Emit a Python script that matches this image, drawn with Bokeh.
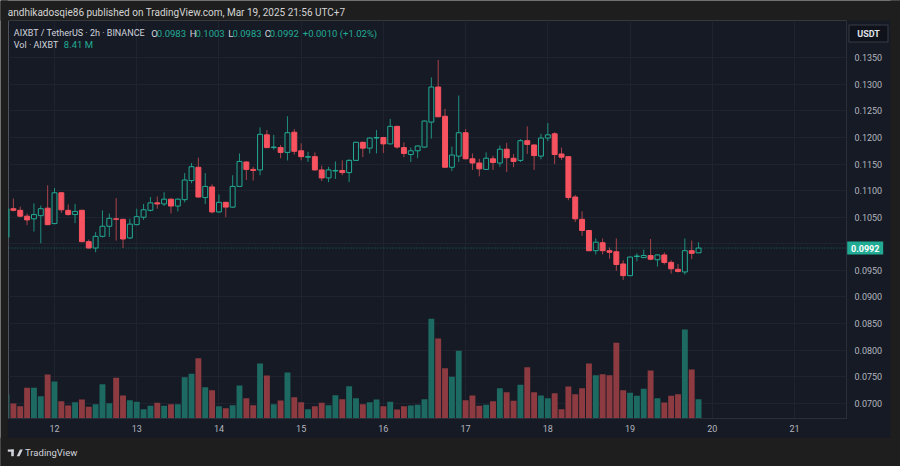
import pandas as pd
from bokeh.plotting import figure
from bokeh.models import (Range1d, LinearAxis, DatetimeAxis, FixedTicker, NumeralTickFormatter,
                          DatetimeTickFormatter, Span, ColumnDataSource, Grid)
from bokeh.core.properties import value
from bokeh.embed import file_html
from bokeh.resources import INLINE

# ---------------- data (AIXBT / USDT, 2h candles) ----------------
first_bar = "2025-03-11 10:00"
opens = [0.1012, 0.1066, 0.1063, 0.1052, 0.1047, 0.1053, 0.1067, 0.1038, 0.1096, 0.1063,
         0.1055, 0.1063, 0.1004, 0.0992, 0.1014, 0.1033, 0.1047, 0.1046, 0.1011, 0.1036,
         0.1050, 0.1063, 0.1077, 0.1075, 0.1084, 0.1071, 0.1083, 0.1119, 0.1144, 0.1087,
         0.1107, 0.1060, 0.1078, 0.1069, 0.1108, 0.1154, 0.1140, 0.1139, 0.1205, 0.1181,
         0.1181, 0.1172, 0.1210, 0.1175, 0.1163, 0.1164, 0.1139, 0.1124, 0.1137, 0.1138,
         0.1134, 0.1157, 0.1191, 0.1180, 0.1199, 0.1200, 0.1188, 0.1221, 0.1181, 0.1168,
         0.1175, 0.1182, 0.1229, 0.1295, 0.1240, 0.1144, 0.1165, 0.1209, 0.1160, 0.1152,
         0.1140, 0.1160, 0.1152, 0.1178, 0.1161, 0.1157, 0.1194, 0.1186, 0.1165, 0.1199,
         0.1207, 0.1169, 0.1164, 0.1088, 0.1046, 0.1025, 0.0987, 0.1002, 0.0987, 0.0985,
         0.0962, 0.0940, 0.0976, 0.0974, 0.0978, 0.0970, 0.0979, 0.0965, 0.0952, 0.0947,
         0.0987, 0.0983]
highs = [0.1067, 0.1085, 0.1070, 0.1057, 0.1076, 0.1072, 0.1110, 0.1105, 0.1097, 0.1074,
         0.1075, 0.1064, 0.1008, 0.1022, 0.1063, 0.1057, 0.1086, 0.1047, 0.1047, 0.1066,
         0.1075, 0.1088, 0.1089, 0.1097, 0.1085, 0.1085, 0.1133, 0.1152, 0.1162, 0.1133,
         0.1112, 0.1093, 0.1079, 0.1129, 0.1170, 0.1155, 0.1145, 0.1219, 0.1214, 0.1205,
         0.1186, 0.1240, 0.1216, 0.1189, 0.1173, 0.1172, 0.1147, 0.1145, 0.1155, 0.1157,
         0.1159, 0.1192, 0.1192, 0.1200, 0.1214, 0.1201, 0.1235, 0.1222, 0.1191, 0.1181,
         0.1185, 0.1232, 0.1313, 0.1346, 0.1254, 0.1183, 0.1279, 0.1216, 0.1170, 0.1160,
         0.1172, 0.1166, 0.1185, 0.1190, 0.1169, 0.1197, 0.1221, 0.1187, 0.1207, 0.1227,
         0.1210, 0.1181, 0.1165, 0.1092, 0.1061, 0.1026, 0.1010, 0.1010, 0.0993, 0.1010,
         0.0969, 0.0976, 0.0982, 0.0989, 0.1009, 0.0980, 0.0984, 0.0969, 0.0962, 0.1010,
         0.1006, 0.1003]
lows = [0.1011, 0.1061, 0.1050, 0.1035, 0.1023, 0.1001, 0.1035, 0.1037, 0.1058, 0.1053,
        0.1039, 0.1003, 0.0991, 0.0984, 0.1012, 0.1013, 0.1006, 0.0992, 0.1009, 0.1035,
        0.1045, 0.1061, 0.1066, 0.1071, 0.1057, 0.1061, 0.1078, 0.1114, 0.1087, 0.1075,
        0.1057, 0.1058, 0.1050, 0.1068, 0.1107, 0.1120, 0.1119, 0.1129, 0.1180, 0.1177,
        0.1161, 0.1157, 0.1168, 0.1157, 0.1154, 0.1138, 0.1118, 0.1116, 0.1122, 0.1129,
        0.1116, 0.1156, 0.1163, 0.1170, 0.1170, 0.1171, 0.1187, 0.1179, 0.1163, 0.1154,
        0.1161, 0.1181, 0.1198, 0.1239, 0.1144, 0.1137, 0.1154, 0.1159, 0.1139, 0.1127,
        0.1139, 0.1139, 0.1145, 0.1135, 0.1144, 0.1154, 0.1169, 0.1139, 0.1159, 0.1193,
        0.1150, 0.1158, 0.1082, 0.1041, 0.1015, 0.0986, 0.0980, 0.0980, 0.0972, 0.0949,
        0.0932, 0.0939, 0.0967, 0.0973, 0.0969, 0.0957, 0.0961, 0.0944, 0.0946, 0.0942,
        0.0971, 0.0983]
closes = [0.1066, 0.1063, 0.1052, 0.1045, 0.1055, 0.1066, 0.1036, 0.1096, 0.1064, 0.1055,
          0.1061, 0.1004, 0.0992, 0.1014, 0.1033, 0.1048, 0.1046, 0.1009, 0.1037, 0.1051,
          0.1064, 0.1077, 0.1075, 0.1084, 0.1071, 0.1084, 0.1120, 0.1145, 0.1088, 0.1108,
          0.1060, 0.1078, 0.1069, 0.1108, 0.1155, 0.1140, 0.1138, 0.1206, 0.1181, 0.1182,
          0.1172, 0.1209, 0.1174, 0.1164, 0.1164, 0.1139, 0.1124, 0.1139, 0.1138, 0.1134,
          0.1157, 0.1191, 0.1180, 0.1199, 0.1200, 0.1188, 0.1221, 0.1182, 0.1170, 0.1175,
          0.1184, 0.1231, 0.1295, 0.1239, 0.1144, 0.1167, 0.1209, 0.1160, 0.1152, 0.1141,
          0.1161, 0.1153, 0.1178, 0.1162, 0.1155, 0.1194, 0.1187, 0.1166, 0.1199, 0.1205,
          0.1168, 0.1163, 0.1087, 0.1047, 0.1025, 0.0987, 0.1003, 0.0987, 0.0984, 0.0961,
          0.0940, 0.0975, 0.0977, 0.0978, 0.0971, 0.0979, 0.0965, 0.0953, 0.0948, 0.0987,
          0.0982, 0.0992]
volumes_m = [10.59, 6.54, 5.36, 13.38, 13.38, 9.72, 19.18, 16.12, 7.54, 5.67,
             7.10, 8.28, 5.10, 6.23, 14.95, 6.67, 17.74, 10.02, 7.98, 7.28,
             4.05, 5.53, 6.84, 5.53, 6.23, 6.23, 18.00, 19.48, 26.28, 13.64,
             12.33, 5.36, 4.49, 5.80, 14.38, 8.85, 5.80, 23.97, 18.74, 6.23,
             7.84, 20.05, 9.28, 7.10, 4.05, 5.36, 6.84, 5.80, 10.15, 8.41,
             14.08, 8.85, 6.23, 7.10, 8.28, 5.36, 7.28, 3.92, 5.36, 5.67,
             5.97, 8.41, 43.45, 34.86, 21.92, 18.17, 29.50, 7.98, 10.02, 5.53,
             5.97, 7.54, 13.20, 11.46, 7.71, 14.69, 22.36, 11.46, 10.02, 8.85,
             11.03, 4.05, 13.95, 10.59, 13.20, 23.97, 18.87, 19.31, 18.87, 32.99,
             12.33, 11.20, 9.89, 12.94, 20.92, 8.85, 6.97, 9.89, 10.59, 38.79,
             21.35, 8.41]
day_ticks = ["2025-03-12", "2025-03-13", "2025-03-14", "2025-03-15", "2025-03-16",
             "2025-03-17", "2025-03-18", "2025-03-19", "2025-03-20", "2025-03-21"]
price_ticks = [0.0700, 0.0750, 0.0800, 0.0850, 0.0900, 0.0950, 0.1000,
               0.1050, 0.1100, 0.1150, 0.1200, 0.1250, 0.1300, 0.1350]
symbol_text = "AIXBT / TetherUS \u00b7 2h \u00b7 BINANCE"
vol_text = "Vol \u00b7 AIXBT"
header_text = "andhikadosqie86 published on TradingView.com, Mar 19, 2025 21:56 UTC+7"
quote_unit = "USDT"
brand = "TradingView"

# ---------------- styles ----------------
OUTER = "#1e1e1e"
PANEL = "#161a25"
GRID = "#1f2330"
SEP = "#2a2e39"
TXT = "#b2b5be"
LEG = "#d1d4dc"
UP = "#22ab94"
DN = "#f7525f"
UP_W = "#1f8f7f"
DN_W = "#a8434b"
UP_V = "#1c6a61"
DN_V = "#8d3b40"
FONT = "Roboto"

W, H = 900, 466
FL, FR, FT, FB = 8, 846, 20, 418          # frame edges (page px)
DAY_PX = 82.22                            # px per day
DAY0_PX = 54                              # px of first day tick
PX_PER_PRICE = 5314.0
PRICE_AT_TOP = 0.145783                   # price at page y = 0

t0_ms = pd.Timestamp(day_ticks[0]).timestamp() * 1000
MS_PER_PX = 86400000 / DAY_PX


def xd(px):
    return t0_ms + (px - DAY0_PX) * MS_PER_PX


def yd(py):
    return PRICE_AT_TOP - py / PX_PER_PRICE


times = pd.date_range(first_bar, periods=len(opens), freq="2h")
up = [c >= o for o, c in zip(opens, closes)]
src = ColumnDataSource(dict(
    t=times, o=opens, h=highs, l=lows, c=closes, v=volumes_m,
    top=[max(o, c) for o, c in zip(opens, closes)],
    bot=[min(o, c) for o, c in zip(opens, closes)],
    fill=[PANEL if u else DN for u in up],
    line=[UP if u else DN for u in up],
    wick=[UP_W if u else DN_W for u in up],
    vcol=[UP_V if u else DN_V for u in up],
))

BAR_MS = 2 * 3600 * 1000
p = figure(width=W, height=H, output_backend="svg", toolbar_location=None,
           x_axis_type=None, y_axis_location=None,
           x_range=Range1d(xd(FL), xd(FR)), y_range=Range1d(yd(FB), yd(FT)),
           min_border_left=FL, min_border_right=W - FR,
           min_border_top=FT, min_border_bottom=H - FB)
p.title.visible = False
# drop the default grid (it belongs to an axis that is not shown)
p.center = [r for r in p.center if not isinstance(r, Grid)]
p.border_fill_color = PANEL
p.background_fill_color = PANEL
p.outline_line_color = None
p.extra_y_ranges = {"vol": Range1d(0, (FB - FT) * volumes_m[-1] / 19.3)}

day_ms = [pd.Timestamp(d).timestamp() * 1000 for d in day_ticks]
p.add_layout(Grid(dimension=0, ticker=FixedTicker(ticks=day_ms), grid_line_color=GRID))
p.add_layout(Grid(dimension=1, ticker=FixedTicker(ticks=price_ticks), grid_line_color=GRID))

# axes
yax = LinearAxis(ticker=FixedTicker(ticks=price_ticks),
                 formatter=NumeralTickFormatter(format="0.0000"),
                 major_label_overrides={0.1: ""})
yax.major_tick_line_color = None
yax.minor_tick_line_color = None
yax.axis_line_color = SEP
yax.major_label_text_color = TXT
yax.major_label_text_font = FONT
yax.major_label_text_font_size = "9px"
yax.major_label_standoff = 2
p.add_layout(yax, "right")

xax = DatetimeAxis(ticker=FixedTicker(ticks=day_ms),
                   formatter=DatetimeTickFormatter(days="%d", months="%d", hours="%d",
                                                   years="%d", minutes="%d"))
xax.major_tick_line_color = None
xax.minor_tick_line_color = None
xax.axis_line_color = SEP
xax.major_label_text_color = TXT
xax.major_label_text_font = FONT
xax.major_label_text_font_size = "9px"
xax.major_label_standoff = 0
p.add_layout(xax, "below")

# volume
p.vbar(x="t", top="v", bottom=0, width=0.86 * BAR_MS, y_range_name="vol",
       fill_color="vcol", line_color=None, source=src)

# last price dotted line
p.add_layout(Span(location=closes[-1], dimension="width", line_color=UP,
                  line_dash="1 2", line_alpha=0.6, line_width=1))

# candles
p.segment(x0="t", y0="l", x1="t", y1="h", line_color="wick", line_width=1, source=src)
p.vbar(x="t", top="top", bottom="bot", width=0.72 * BAR_MS, fill_color="fill",
       line_color="line", line_width=1, source=src)

# ---------- decorations outside the frame (page-pixel layout) ----------
def box(l, r, t, b, fill):
    p.quad(left=[xd(l)], right=[xd(r)], top=[yd(t)], bottom=[yd(b)],
           fill_color=fill, line_color=None, level="annotation")


def txt(s, x, y, color, size="9px", style="normal", align="left", yval=None):
    p.text(x=[xd(x)], y=[yd(y) if yval is None else yval], text=[s],
           text_color=color, text_font=value(FONT), text_font_size=value(size),
           text_font_style=style, text_align=align, text_baseline="middle",
           level="annotation")


# outer frame strips
box(0, W, 0, FT, OUTER)
box(0, 7.3, 0, H, OUTER)
box(890, W, 0, H, OUTER)
box(0, W, 437.3, H, OUTER)

txt(header_text, 7.3, 11.7, "#d4d4d4", size="10px")

# legend
chg = closes[-1] - closes[-2]
pct = chg / closes[-2] * 100
txt(symbol_text, 13.3, 32.7, LEG)
for key, val, kx, vx in [("O", opens[-1], 150.7, 156.3), ("H", highs[-1], 189.3, 195.0),
                         ("L", lows[-1], 227.7, 231.9), ("C", closes[-1], 264.3, 269.2)]:
    txt(key, kx, 32.7, LEG, size="9.5px")
    txt(f"{val:.4f}", vx, 32.7, UP, size="9.5px")
txt(f"{chg:+.4f} ({pct:+.2f}%)", 302.3, 32.7, UP, size="9.5px")
txt(vol_text, 13.3, 44.3, LEG)
txt(f"{volumes_m[-1]:.2f} M", 63.3, 44.3, UP, size="9.5px")

# USDT button (border drawn as a slightly larger box behind)
box(848, 888, 24, 42, "#363a45")
box(849, 887, 25, 41, "#0f121a")
txt(quote_unit, 868, 33, "#e0e3eb", size="9px", style="bold", align="center")

# last price tag
p.quad(left=[xd(846.7)], right=[xd(882.7)],
       top=[closes[-1] + 6.5 / PX_PER_PRICE], bottom=[closes[-1] - 6.5 / PX_PER_PRICE],
       fill_color=UP, line_color=None, level="annotation")
txt(f"{closes[-1]:.4f}", 864.7, 0, "#ffffff", size="9px", style="bold", align="center",
    yval=closes[-1])

# TradingView logo
box(7.3, 13.3, 449, 451.2, LEG)
box(10.7, 13.3, 449, 455.7, LEG)
p.scatter(x=[xd(15.2)], y=[yd(450.1)], size=2.6, fill_color=LEG, line_color=None,
          level="annotation")
p.patch(x=[xd(16.2), xd(19.0), xd(22.3), xd(19.5)],
        y=[yd(455.7), yd(455.7), yd(449), yd(449)],
        fill_color=LEG, line_color=None, level="annotation")
txt(brand, 24.5, 452.3, LEG, size="9.5px")

open("out.html", "w").write(file_html(p, INLINE))
